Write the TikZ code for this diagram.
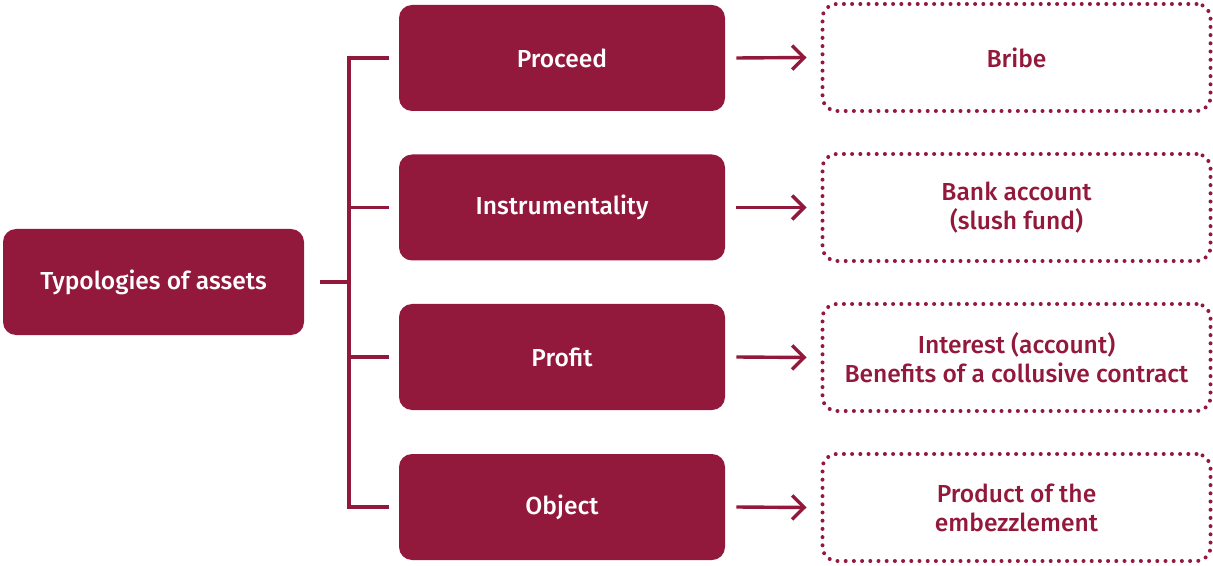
\documentclass[tikz,border=0pt]{standalone}
\usepackage{fontspec}
\setmainfont{Fira Sans Medium}
\usetikzlibrary{arrows.meta}
\definecolor{maroon}{HTML}{93193C}
\begin{document}
\begin{tikzpicture}[x=0.5pt,y=-0.5pt,
  fillbox/.style={fill=maroon,draw=none,rounded corners=6.5pt,text=white,minimum width=163pt,minimum height=53pt,inner sep=0pt,align=center,font=\fontsize{12.3}{14.5}\selectfont},
  dotbox/.style={draw=maroon,dash pattern=on 0pt off 4.1pt,line cap=round,line width=2pt,rounded corners=7pt,text=maroon,minimum width=194pt,minimum height=53.5pt,inner sep=0pt,align=center,font=\fontsize{12.3}{14.5}\selectfont},
  link/.style={draw=maroon,line width=1.6pt},
  arr/.style={draw=maroon,line width=1.7pt,-{Straight Barb[length=6pt,width=12pt,line width=1.7pt]}}]
\useasboundingbox (0,0) rectangle (1213,566);
\node[fillbox,minimum width=150.5pt] (root) at (153.5,282) {Typologies of assets};
\node[fillbox] (m1) at (562,58) {Proceed};
\node[fillbox] (m2) at (562,207.5) {Instrumentality};
\node[fillbox] (m3) at (562,357) {Profit};
\node[fillbox] (m4) at (562,507) {Object};
\node[dotbox] (r1) at (1016.5,57.5) {Bribe};
\node[dotbox] (r2) at (1016.5,207.5) {Bank account\\(slush fund)};
\node[dotbox] (r3) at (1016.5,357.5) {Interest (account)\\Benefits of a collusive contract};
\node[dotbox] (r4) at (1016.5,507.5) {Product of the\\embezzlement};
\coordinate (jx) at (349,282);
\draw[link] ([xshift=8pt]root.east) -- (jx);
\draw[link,line cap=rect] (jx |- m1.west) -- (jx |- m4.west);
\foreach \i in {1,2,3,4}{
  \draw[link] (jx |- m\i.west) -- ([xshift=-5pt]m\i.west);
  \draw[arr] ([xshift=5.5pt]m\i.east) -- ([xshift=-7pt]r\i.west);
}
\end{tikzpicture}
\end{document}
